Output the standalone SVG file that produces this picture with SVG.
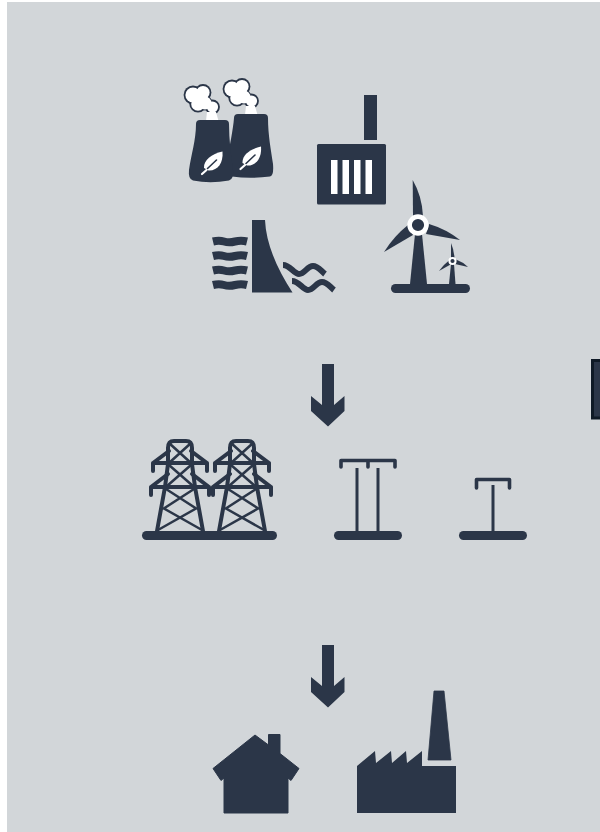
<svg xmlns="http://www.w3.org/2000/svg" width="600" height="832" viewBox="0 0 600 832">
<style>
.d{fill:#2b3648}
.w{fill:#fff}
.l{fill:none;stroke:#2b3648;stroke-linecap:round;stroke-linejoin:round}
.t{stroke-width:3.600}
.pt{stroke-width:4}
.p{stroke-width:3;stroke-linecap:butt}
.x{stroke-width:2.500;stroke-linecap:butt}
.wv{fill:none;stroke:#2b3648;stroke-width:8}
.wr{fill:none;stroke:#2b3648;stroke-width:6}
.co{fill:#2b3648}
.ci{fill:#fff}
</style>
<defs>
<g id="pylon">
<path class="l pt" d="M-23 91L-15 47L-12 24V8Q-12 1 -6 1H6Q12 1 12 8V24L15 47L23 91"/>
<path class="l x" d="M-11 3L11 23M11 3L-11 23M-11 25L13 46M11 25L-13 46M-14 49L17 69M14 49L-17 69M-17 68L22 90M17 68L-22 90"/>
<path class="l pt" d="M-27 31V23H27V31M-11 11L-27 23M11 11L27 23M-29 55V47H29V55M-12 34L-29 47M12 34L29 47"/>
</g>
<g id="leaf">
<path class="w" d="M-7.500 5C-8 -3 0 -9 11 -11.500C12 0 6 8 -3 7.500Z"/>
<path class="l" stroke-width="1.600" d="M-4 5.500L5 -3"/>
<path fill="none" stroke="#fff" stroke-width="2.200" stroke-linecap="round" d="M-5 7L-9.500 11"/>
</g>
<g id="cloud">
<g class="co">
<circle cx="8" cy="10" r="9.400"/><circle cx="18" cy="7.500" r="8.400"/><circle cx="13" cy="19" r="8.600"/><circle cx="27.500" cy="22" r="7.400"/><circle cx="20" cy="18" r="7.500"/>
</g>
<g class="ci">
<circle cx="8" cy="10" r="7.600"/><circle cx="18" cy="7.500" r="6.600"/><circle cx="13" cy="19" r="6.800"/><circle cx="27.500" cy="22" r="5.600"/><circle cx="20" cy="18" r="6.500"/>
</g>
<path class="w" d="M22 27H31L33.500 36H21Z"/>
</g>
</defs>
<rect x="7" y="2" width="593" height="830" fill="#d2d6d9"/>

<g id="cooling-towers">
<use href="#cloud" x="185" y="85"/>
<use href="#cloud" x="224" y="79"/>
<path class="d" d="M238 114Q234 114 234 118C233 130 230 145 226 164Q225 176 232 176.500Q250 179 270 176.500Q274 176 273 164C271 150 268 135 268 118Q268 114 264 114Z"/>
<path class="d" d="M200 120Q196 120 196 124C196 140 191 155 189 170Q188 179 193 180.500Q210 184 229 180.500Q234 179 233 170C231 155 229 140 229 124Q229 120 225 120Z"/>
<use href="#leaf" x="211.500" y="163"/>
<use href="#leaf" x="250" y="158"/>
</g>

<g id="filter-plant">
<rect class="d" x="364" y="95" width="13" height="45"/>
<rect class="d" x="317" y="144" width="69" height="60.500" rx="1.500"/>
<path class="w" d="M331 160h6.500v34h-6.500zM342.500 160h6.500v34h-6.500zM354 160h6.500v34h-6.500zM365.500 160h6.500v34h-6.500z"/>
</g>

<g id="hydro-dam">
<path class="d" d="M252 220H265C266 245 278 270 292.500 292.500H252Z"/>
<path class="wv" d="M213 241.500Q219 240 224 241.500T235 241.500T247 241.500M213 256Q219 254.500 224 256T235 256T247 256M213 270.500Q219 269 224 270.500T235 270.500T247 270.500M213 285Q219 283.500 224 285T235 285T247 285"/>
<path class="wr" d="M283 265C290 265 294 274 299 274C305 274 307 266 313 266C318 266 321 271 325 274M292 281C299 281 303 290 308 290C314 290 316 282 322 282C327 282 330 287 334 290"/>
</g>

<g id="wind-turbines">
<rect class="d" x="391" y="284" width="79" height="9" rx="4.500"/>
<path class="d" d="M415 234H422L427 284H410Z"/>
<path class="d" d="M412.700 180L413 216H423Q422 196 412.700 180Z"/>
<path class="d" d="M460 240L426 234L429 224Q446 229 460 240Z"/>
<path class="d" d="M384 252Q394 236 408 225L413 235Z"/>
<circle class="d" cx="418" cy="225" r="8"/>
<circle cx="418" cy="225" r="8.400" fill="none" stroke="#fff" stroke-width="4.600"/>
<path class="d" d="M451 264H454L455.500 284H449Z"/>
<path class="d" d="M451 243L451 258H454.500Q454 250 451 243Z"/>
<path class="d" d="M468 267L455 264L456 259.500Q463 262 468 267Z"/>
<path class="d" d="M439 271Q443 265 449 260.500L450.500 264.500Z"/>
<circle class="d" cx="452.500" cy="261" r="2.500"/>
<circle cx="452.500" cy="261" r="3.100" fill="none" stroke="#fff" stroke-width="2"/>
</g>

<g id="connectors">
<path class="d" d="M322 364H334V405L344.500 396V411L328 426.500L311 411V396L322 405Z"/>
<path class="d" d="M322 645H334V686L344.500 677V692L328 707.500L311 692V677L322 686Z"/>
</g>

<rect id="side-panel" x="592.500" y="360.500" width="9" height="57.500" fill="#2b3648" stroke="#0f1a26" stroke-width="3"/>

<g id="double-pylons">
<rect class="d" x="142" y="531" width="135" height="9" rx="4.500"/>
<use href="#pylon" x="180" y="440"/>
<use href="#pylon" x="242" y="440"/>
</g>

<g id="double-pole">
<rect class="d" x="334" y="531" width="68" height="9" rx="4.500"/>
<path class="l t" d="M341 467V460.500H395V467M368 460.500V467"/>
<path class="l p" d="M357 468V532M378 468V532"/>
</g>

<g id="single-pole">
<rect class="d" x="459" y="531" width="68" height="9" rx="4.500"/>
<path class="l t" d="M476.500 488V479.500H509.500V488"/>
<path class="l p" d="M493 485V532"/>
</g>

<g id="house">
<path class="d" d="M255 735L268.500 745V734.500H280V753.500L299 768.500L291 780.500L288 778V813H224V778L221 780.500L213 768.500Z" stroke="#2b3648" stroke-width="1" stroke-linejoin="round"/>
</g>

<g id="factory">
<path class="d" d="M357 766L375 751L376 763L391 751L392 763L406 751L407 763L422 751V766H456V813H357Z"/>
<path class="d" d="M434 691H444L451 760H428Z" stroke="#2b3648" stroke-width="0.800" stroke-linejoin="round"/>
</g>
</svg>
